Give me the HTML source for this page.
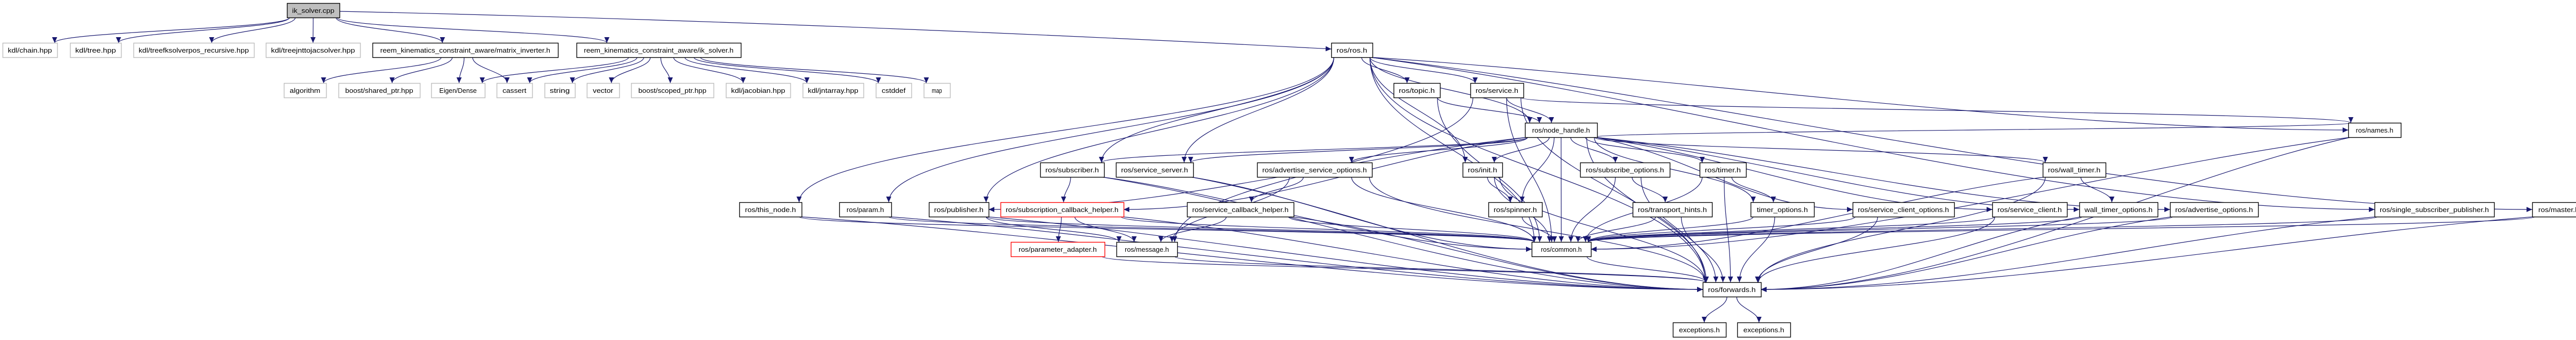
<!DOCTYPE html>
<html><head><meta charset="utf-8"><style>
html,body{margin:0;padding:0;background:#fff}
svg{display:block}
text{font-family:"Liberation Sans",sans-serif;font-size:12.5px;text-anchor:middle;fill:#000}
</style></head><body>
<svg id="g" xmlns="http://www.w3.org/2000/svg" width="5023" height="659" viewBox="0 0 5023 659">
<defs><marker id="ar" markerUnits="userSpaceOnUse" markerWidth="12" markerHeight="10" refX="11" refY="5" orient="auto"><path d="M0,0 L11,5 L0,10 z" fill="#191970"/></marker></defs>
<g id="edges" fill="none" stroke="#191970" stroke-width="1.2"></g>
<g id="nodes"></g>
</svg>
<script>
var N={
ik:[557,659,6,"ik_solver.cpp",2],
chain:[5,111,83,"kdl/chain.hpp",1],tree:[136,235,83,"kdl/tree.hpp",1],fk:[259,493,83,"kdl/treefksolverpos_recursive.hpp",1],jnt:[516,699,83,"kdl/treejnttojacsolver.hpp",1],
matinv:[723,1083,83,"reem_kinematics_constraint_aware/matrix_inverter.h",0],iksh:[1119,1438,83,"reem_kinematics_constraint_aware/ik_solver.h",0],ros:[2584,2664,83,"ros/ros.h",0],
algorithm:[551,633,161,"algorithm",1],shared:[657,815,161,"boost/shared_ptr.hpp",1],eigen:[837,941,161,"Eigen/Dense",1],cassert:[964,1033,161,"cassert",1],string:[1057,1116,161,"string",1],vector:[1139,1202,161,"vector",1],scoped:[1225,1385,161,"boost/scoped_ptr.hpp",1],jac:[1409,1534,161,"kdl/jacobian.hpp",1],jnt2:[1558,1676,161,"kdl/jntarray.hpp",1],cstddef:[1700,1769,161,"cstddef",1],map:[1793,1844,161,"map",1],
topic:[2705,2795,161,"ros/topic.h",0],service:[2854,2957,161,"ros/service.h",0],
nh:[2960,3100,238,"ros/node_handle.h",0],names:[4558,4660,238,"ros/names.h",0],
subscriber:[2019,2143,315,"ros/subscriber.h",0],srvserver:[2166,2316,315,"ros/service_server.h",0],advsrv:[2440,2663,315,"ros/advertise_service_options.h",0],init:[2839,2916,315,"ros/init.h",0],subopts:[3067,3241,315,"ros/subscribe_options.h",0],timer:[3299,3389,315,"ros/timer.h",0],walltimer:[3965,4087,315,"ros/wall_timer.h",0],
thisnode:[1435,1556,392,"ros/this_node.h",0],param:[1629,1730,392,"ros/param.h",0],publisher:[1803,1919,392,"ros/publisher.h",0],subcb:[1942,2181,392,"ros/subscription_callback_helper.h",3],srvcb:[2304,2511,392,"ros/service_callback_helper.h",0],spinner:[2889,2993,392,"ros/spinner.h",0],transport:[3169,3323,392,"ros/transport_hints.h",0],timeropts:[3398,3521,392,"timer_options.h",0],scopts:[3596,3793,392,"ros/service_client_options.h",0],sclient:[3867,4012,392,"ros/service_client.h",0],wtopts:[4036,4188,392,"wall_timer_options.h",0],advopts:[4212,4383,392,"ros/advertise_options.h",0],ssp:[4609,4841,392,"ros/single_subscriber_publisher.h",0],master:[4915,5018,392,"ros/master.h",0],
padapter:[1962,2144,469,"ros/parameter_adapter.h",3],message:[2167,2285,469,"ros/message.h",0],common:[2973,3088,469,"ros/common.h",0],
forwards:[3305,3418,547,"ros/forwards.h",0],exc1:[3247,3350,625,"exceptions.h",0],exc2:[3372,3475,625,"exceptions.h",0]
};
var E={
ik:"chain tree fk jnt matinv iksh ros",
matinv:"algorithm shared eigen cassert",
iksh:"eigen cassert string vector scoped jac jnt2 cstddef map",
ros:"thisnode param publisher subscriber srvserver topic service nh init common forwards names ssp master",
topic:"nh common",
service:"nh common names forwards message",
nh:"subscriber srvserver advsrv init subopts timer walltimer publisher spinner common forwards names scopts sclient wtopts advopts timeropts subcb",
subscriber:"subcb common forwards",srvserver:"common forwards",advsrv:"srvcb common forwards message",
init:"spinner common forwards",subopts:"common transport forwards",timer:"common timeropts forwards",walltimer:"wtopts common forwards",
thisnode:"common forwards",param:"common forwards",publisher:"message common forwards",subcb:"padapter message common forwards",srvcb:"message common forwards",
spinner:"common",transport:"common forwards",timeropts:"common forwards",scopts:"common forwards",sclient:"common forwards",wtopts:"common forwards",advopts:"common forwards",ssp:"common forwards",master:"common forwards",
padapter:"forwards",message:"forwards",common:"forwards",forwards:"exc1 exc2",names:"common forwards"
};
var H=28,NS="http://www.w3.org/2000/svg";
function el(t,a){var e=document.createElementNS(NS,t);for(var k in a)e.setAttribute(k,a[k]);return e;}
var eg=document.getElementById("edges"),ng=document.getElementById("nodes");
function cl(v,a,b){return Math.max(a,Math.min(b,v));}
for(var s in E){E[s].split(" ").forEach(function(t){
 var A=N[s],B=N[t];var acx=(A[0]+A[1])/2,bcx=(B[0]+B[1])/2,aw=A[1]-A[0],bw=B[1]-B[0];
 var ay2=A[2]+H,by1=B[2],dy=by1-ay2,dx=bcx-acx,d;
 var sx=acx+cl(dx*0.15,-aw/2+5,aw/2-5),sy=ay2;
 if(s=="ik"&&t=="ros"){
  d="M659,22 C1500,40 2300,80 2584,95";
 }else if(Math.abs(dx)>3.5*dy+150&&dy>60){
  var side=dx>0?B[0]:B[1],ey=B[2]+H/2,sg=dx>0?1:-1;
  d="M"+sx+","+sy+" C"+(sx+sg*Math.abs(dx)*0.3)+","+(sy+dy*0.3)+" "+(side-sg*Math.abs(dx)*0.3)+","+ey+" "+side+","+ey;
 }else{
  var ex=bcx+cl(-dx*0.15,-bw/2+5,bw/2-5),ey2=by1;
  d="M"+sx+","+sy+" C"+sx+","+(sy+dy*0.45)+" "+ex+","+(ey2-dy*0.45)+" "+ex+","+ey2;
 }
 eg.appendChild(el("path",{d:d,"marker-end":"url(#ar)"}));
});}
for(var k in N){var n=N[k],w=n[1]-n[0];
 var st=n[4]==1?"#bfbfbf":(n[4]==3?"#ff0000":"#000");
 ng.appendChild(el("rect",{x:n[0]+0.5,y:n[2]+0.5,width:w,height:H,fill:n[4]==2?"#bfbfbf":"#fff",stroke:st,"stroke-width":n[4]==1?1.5:1.4}));
 var tx=el("text",{x:n[0]+w/2,y:n[2]+19,textLength:Math.min(w-20,n[3].length*6.6),lengthAdjust:"spacingAndGlyphs"});
 tx.textContent=n[3];ng.appendChild(tx);}
</script>
</body></html>
